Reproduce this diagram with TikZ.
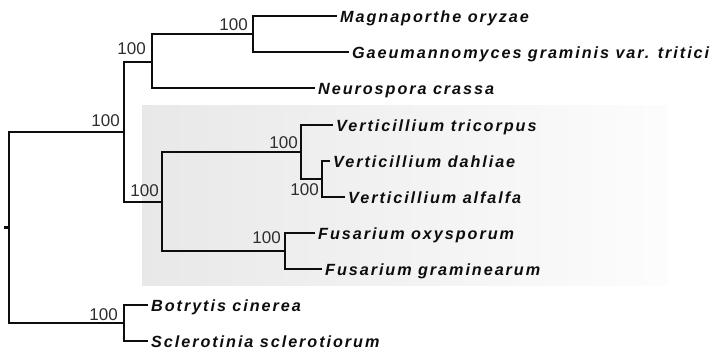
\documentclass[tikz,border=0pt]{standalone}
\usepackage{fontspec}
\setmainfont{Liberation Sans}
\newfontfamily\taxonfont[LetterSpace=12]{Liberation Sans}
\usepackage{tikz}
\usetikzlibrary{positioning}

\begin{document}
\begin{tikzpicture}[
    x=1pt, y=-1pt,
    tree/.style={draw=black!95, line width=2.5pt},
    leaf/.style={anchor=base west, inner sep=0pt, font=\taxonfont\bfseries\itshape\fontsize{16.2}{18}\selectfont, text=black!95},
    boot/.style={inner sep=0pt, font=\fontsize{17}{19}\selectfont, text=black!82},
  ]
    \useasboundingbox (0,0) rectangle (713,351);

    % shaded clade
    \shade[left color=black!9, right color=black!1] (142,105) rectangle (668,285);

    % internal nodes
    \coordinate (R) at (9,227.5);
    \coordinate (A) at (124,132);
    \coordinate (B) at (152,62);
    \coordinate (C) at (253,34);
    \coordinate (D) at (162,202);
    \coordinate (E) at (301,152);
    \coordinate (F) at (322,179);
    \coordinate (G) at (285,251);
    \coordinate (H) at (124,323);
    \coordinate (stub) at (4,227.5);

    % leaf tips and names
    \foreach \n/\x/\y/\lab in {
        m1/337/16/{Magnaporthe oryzae},
        m2/349/52/{Gaeumannomyces graminis var. tritici},
        n1/315/88/{Neurospora crassa},
        v1/333/125/{Verticillium tricorpus},
        v2/330/161/{Verticillium dahliae},
        v3/345/197/{Verticillium alfalfa},
        f1/315/233/{Fusarium oxysporum},
        f2/322/269/{Fusarium graminearum},
        b1/148/305/{Botrytis cinerea},
        s1/148/341/{Sclerotinia sclerotiorum}} {
      \coordinate (\n) at (\x,\y);
      \node[leaf] (\n-name) at ([xshift=3pt, yshift=-6pt]\n) {\lab};
    }

    % branches
    \draw[tree] (stub) -- (R);
    \foreach \p/\c in {R/A, R/H, A/B, A/D, B/C, B/n1, C/m1, C/m2,
                       D/E, D/G, E/v1, E/F, F/v2, F/v3, G/f1, G/f2, H/b1, H/s1}
      \draw[tree] (\p) |- (\c);

    % bootstrap values
    \node[boot, above left=5pt and 4pt of A] (bA) {100};
    \node[boot, above left=7pt and 6pt of B] (bB) {100};
    \node[boot, above left=3pt and 5pt of C] (bC) {100};
    \node[boot, above left=5pt and 3pt of D] (bD) {100};
    \node[boot, above left=3pt and 3pt of E] (bE) {100};
    \node[boot, below left=4pt and 3pt of F] (bF) {100};
    \node[boot, above left=7pt and 4pt of G] (bG) {100};
    \node[boot, above left=2pt and 6pt of H] (bH) {100};
  \end{tikzpicture}
\end{document}
